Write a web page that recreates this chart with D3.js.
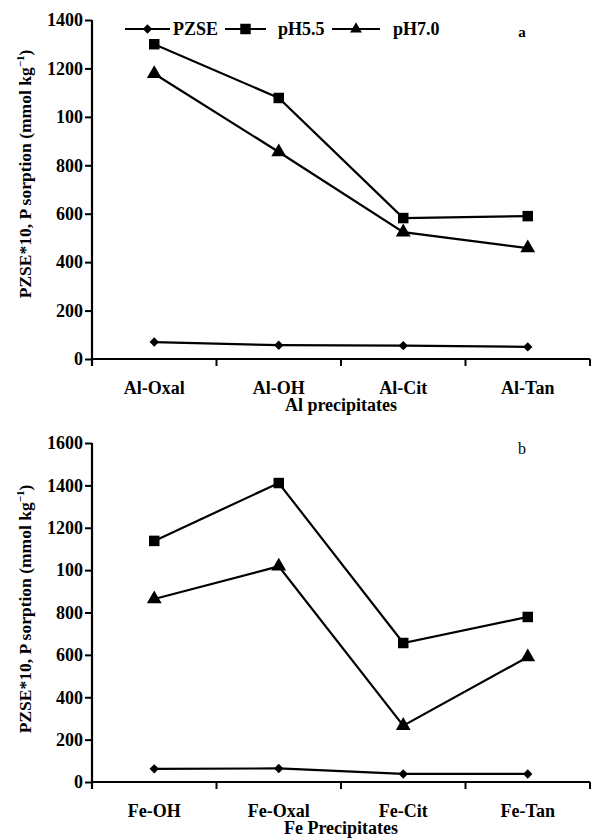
<!DOCTYPE html>
<html><head><meta charset="utf-8">
<script src="https://cdn.jsdelivr.net/npm/d3@7"></script>
<style>
body{margin:0;background:#fff;}
text{font-family:"Liberation Serif","Times New Roman",serif;fill:#000;}
</style></head>
<body>
<svg id="chart" width="592" height="840"></svg>
<script>
const seriesNames = ["PZSE", "pH5.5", "pH7.0"];
const alCategories = ["Al-Oxal", "Al-OH", "Al-Cit", "Al-Tan"];
const alPZSE = [70, 57, 55, 50];
const alPH55 = [1300, 1078, 582, 590];
const alPH70 = [1178, 855, 524, 458];
const alTickValues = [0, 200, 400, 600, 800, 1000, 1200, 1400];
const alTickLabels = ["0", "200", "400", "600", "800", "100", "1200", "1400"];

const feCategories = ["Fe-OH", "Fe-Oxal", "Fe-Cit", "Fe-Tan"];
const fePZSE = [62, 64, 38, 38];
const fePH55 = [1138, 1411, 656, 779];
const fePH70 = [864, 1018, 266, 590];
const feTickValues = [0, 200, 400, 600, 800, 1000, 1200, 1400, 1600];
const feTickLabels = ["0", "200", "400", "600", "800", "100", "1200", "1400", "1600"];

const svg = d3.select("#chart");
const symbols = [d3.symbolSquare, d3.symbolSquare, d3.symbolTriangle];
const symSizes = [44, 110, 95];
const symRot = [45, 0, 0];

function panel(cfg) {
  const g = svg.append("g");
  const x = d3.scaleBand().domain(cfg.categories).range([92, 590]).padding(0);
  const y = d3.scaleLinear().domain([0, cfg.ymax]).range([cfg.y0, cfg.y1]);

  // y axis
  const ya = d3.axisLeft(y).tickValues(cfg.tickValues)
    .tickFormat((d, i) => cfg.tickLabels[i]).tickSize(7).tickPadding(2);
  const yg = g.append("g").attr("transform", "translate(92,0)").call(ya);
  yg.select(".domain").attr("stroke-width", 2.2).attr("d", `M0,${cfg.y1}V${cfg.y0 + 7}`);
  yg.selectAll(".tick line").attr("stroke-width", 2);
  yg.selectAll("text").style("font-family", '"Liberation Serif",serif')
    .style("font-size", "18px").style("font-weight", "bold");

  // x axis
  g.append("line").attr("x1", x.range()[0]).attr("x2", x.range()[1])
    .attr("y1", cfg.y0).attr("y2", cfg.y0).attr("stroke", "#000").attr("stroke-width", 2.2);
  const edges = cfg.categories.map(c => x(c) + x.bandwidth());
  g.selectAll(".xt").data(edges).enter().append("line")
    .attr("x1", d => d).attr("x2", d => d).attr("y1", cfg.y0).attr("y2", cfg.y0 + 7)
    .attr("stroke", "#000").attr("stroke-width", 2);
  g.selectAll(".xl").data(cfg.categories).enter().append("text")
    .attr("x", d => x(d) + x.bandwidth() / 2).attr("y", cfg.y0 + 35)
    .attr("text-anchor", "middle").style("font-size", "18px").style("font-weight", "bold")
    .text(d => d);
  g.append("text").attr("x", 341).attr("y", cfg.y0 + 52).attr("text-anchor", "middle")
    .style("font-size", "18px").style("font-weight", "bold").text(cfg.xTitle);

  // y title
  const t = g.append("text").attr("transform", `translate(31,${cfg.labelCenter}) rotate(-90)`)
    .attr("text-anchor", "middle").style("font-size", "17.5px").style("font-weight", "bold");
  t.append("tspan").text("PZSE*10, P sorption (mmol kg");
  t.append("tspan").attr("dy", -7).style("font-size", "11px").text("\u22121");
  t.append("tspan").attr("dy", 7).text(")");

  // series
  const line = d3.line().x((d, i) => x(cfg.categories[i]) + x.bandwidth() / 2).y(d => y(d));
  cfg.series.forEach((vals, si) => {
    g.append("path").attr("d", line(vals)).attr("fill", "none")
      .attr("stroke", "#000").attr("stroke-width", 2.2);
    g.selectAll(".m" + si).data(vals).enter().append("path")
      .attr("d", d3.symbol().type(symbols[si]).size(symSizes[si]))
      .attr("transform", (d, i) => `translate(${x(cfg.categories[i]) + x.bandwidth() / 2},${y(d)}) rotate(${symRot[si]})`)
      .attr("fill", "#000");
  });

  // panel letter
  g.append("text").attr("x", 522).attr("y", cfg.letterY).attr("text-anchor", "middle")
    .style("font-size", cfg.letterSize).style("font-weight", cfg.letterWeight).text(cfg.letter);
}

panel({categories: alCategories, ymax: 1400, y0: 359, y1: 20,
  tickValues: alTickValues, tickLabels: alTickLabels, series: [alPZSE, alPH55, alPH70],
  xTitle: "Al precipitates", labelCenter: 174, letter: "a", letterY: 37,
  letterSize: "15px", letterWeight: "bold"});
panel({categories: feCategories, ymax: 1600, y0: 782, y1: 443,
  tickValues: feTickValues, tickLabels: feTickLabels, series: [fePZSE, fePH55, fePH70],
  xTitle: "Fe Precipitates", labelCenter: 609, letter: "b", letterY: 454,
  letterSize: "16px", letterWeight: "normal"});

// legend
const legend = svg.append("g");
const legItems = [{x1: 125, x2: 170, tx: 173}, {x1: 225, x2: 266, tx: 278}, {x1: 332, x2: 380, tx: 393}];
legItems.forEach((it, i) => {
  legend.append("line").attr("x1", it.x1).attr("x2", it.x2).attr("y1", 29).attr("y2", 29)
    .attr("stroke", "#000").attr("stroke-width", 2.2);
  legend.append("path").attr("d", d3.symbol().type(symbols[i]).size(i === 2 ? 60 : symSizes[i]))
    .attr("transform", `translate(${(it.x1 + it.x2) / 2},29) rotate(${symRot[i]})`).attr("fill", "#000");
  legend.append("text").attr("x", it.tx).attr("y", 35)
    .style("font-size", "18px").style("font-weight", "bold").text(seriesNames[i]);
});
</script>
</body></html>
